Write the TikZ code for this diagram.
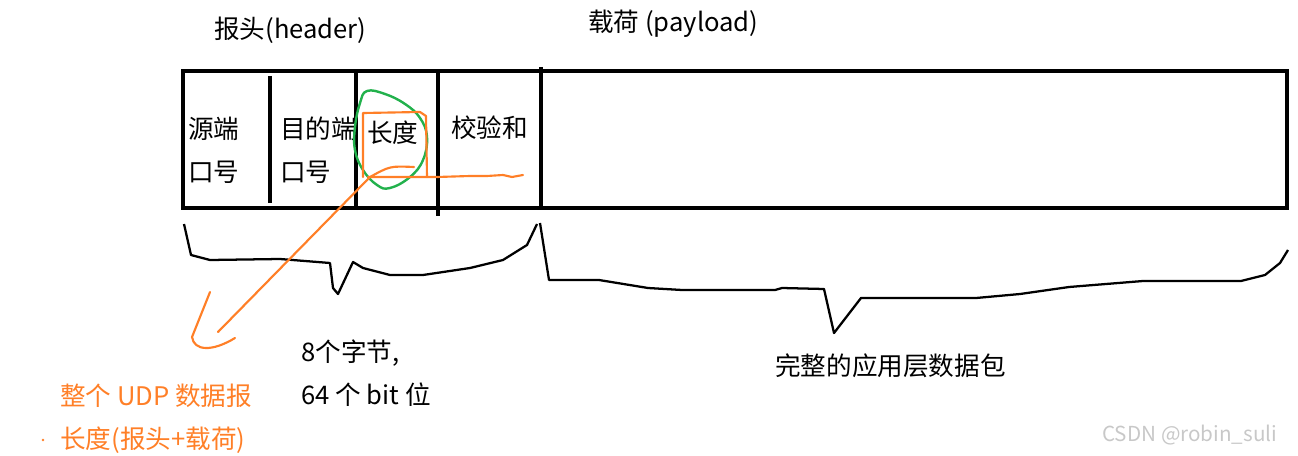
\documentclass[tikz,border=0pt]{standalone}
\usepackage{fontspec}
\setmainfont{Noto Sans CJK SC}
\usetikzlibrary{positioning}
\definecolor{ink}{HTML}{000000}
\definecolor{hilite}{HTML}{FF7F27}
\definecolor{ring}{HTML}{22B14C}
\definecolor{wm}{HTML}{C8C8C8}
\tikzset{
  lbl/.style   = {font=\fontsize{19.2}{32}\selectfont, text=ink, inner sep=0pt,
                  anchor=west, align=left},
  note/.style  = {lbl, text=hilite},
  frame/.style = {draw=ink, line width=2.3pt},
  brace/.style = {draw=ink, line width=1.7pt, line join=round},
  pen/.style   = {draw=hilite, line width=1.6pt, line join=round, line cap=round},
}
\begin{document}
\begin{tikzpicture}[x=0.75pt,y=-0.75pt]
  \useasboundingbox (0,0) rectangle (1298,456);
  % packet frame and field borders
  \draw[frame] (183,71) rectangle (1287,208);
  \draw[frame] (270,76) -- (270,203);
  \draw[frame] (356,71) -- (356,208);
  \draw[frame] (438,73) -- (438,216);
  \draw[frame] (541,67) -- (541,208);
  % titles
  \node[lbl] (hdr) at (214,30) {报头(header)};
  \node[lbl] (pay) at (588,24) {载荷 (payload)};
  % fields
  \node[lbl] (src) at (188,150) {源端\\口号};
  \node[lbl] (dst) at (280,150) {目的端\\口号};
  \node[lbl] (len) at (367,133) {长度};
  \node[lbl] (sum) at (451,128) {校验和};
  % braces
  \draw[brace] (184,224) -- (191,255) -- (210,260) -- (280,259) -- (330,263) --
    (333,288) -- (338,294) -- (353,262) -- (363,268) -- (390,275) -- (423,275) --
    (470,268) -- (503,260) -- (527,245) -- (537,224);
  \draw[brace] (540,223) -- (549,280) -- (599,280) -- (648,288) -- (682,290) --
    (775,290) -- (782,288) -- (824,289) -- (834,333) -- (861,298) -- (907,298) --
    (976,298) -- (1020,294) -- (1069,287) -- (1143,281) -- (1241,281) --
    (1265,275) -- (1280,263) -- (1288,250);
  \node[lbl] (hsize) at (301,373) {8个字节,\\64 个 bit 位};
  \node[lbl] (app) at (775,366) {完整的应用层数据包};
  % marks on the length field
  \draw[ring, line width=1.8pt] plot[smooth cycle, tension=0.7] coordinates {
    (367,91) (385,94) (405,104) (420,118) (427,137) (423,160) (410,177)
    (390,188) (377,185) (363,170) (355,150) (355,127) (360,103)};
  \draw[pen] (363,177) -- (363,113) -- (420,112) -- (426,116) -- (427,177);
  \draw[pen] (368,177) -- (437,177) -- (470,176) -- (487,176) -- (503,175) --
    (512,177) -- (523,175);
  \coordinate (tip) at (370,177);
  \coordinate (tail) at (218,332);
  \draw[pen] (414,167) .. controls (390,166) .. (tip);
  \draw[pen] (tip) -- (tail);
  \draw[pen] (210,292) -- (192,337) .. controls (194,351) and (212,352) .. (235,338);
  \fill[hilite] (43,440) circle (1pt);
  \node[note] (total) at (60,419) {整个 UDP 数据报\\长度(报头+载荷)};
  \node[lbl, text=wm, font=\fontsize{15.5}{18}\selectfont] (wmk) at (1102,435) {CSDN @robin\_suli};
\end{tikzpicture}
\end{document}
